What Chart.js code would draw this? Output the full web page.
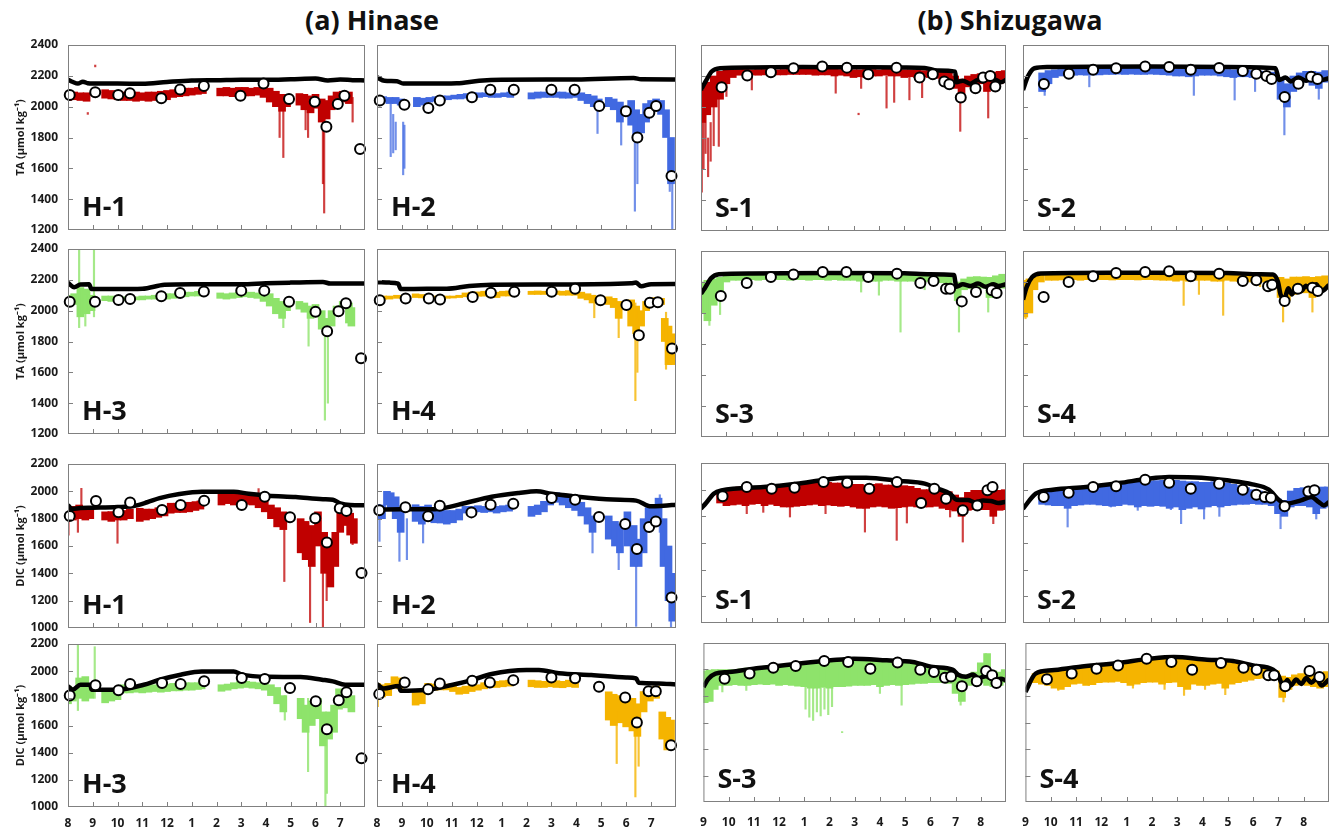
<!DOCTYPE html>
<html>
<head>
<meta charset="utf-8">
<script src="https://cdn.jsdelivr.net/npm/chart.js@4.4.1/dist/chart.umd.min.js"></script>
<style>
  html, body { margin:0; padding:0; background:#fff; }
  body { width:1333px; height:831px; position:relative; overflow:hidden; font-family:'Open Sans', sans-serif; }
  canvas { position:absolute; }
  .title { position:absolute; top:2px; height:36px; line-height:36px; font-weight:700; font-size:27px; color:#111; white-space:nowrap; transform:translateX(-50%); }
</style>
</head>
<body>
<div class="title" style="left:372px">(a) Hinase</div>
<div class="title" style="left:1010px">(b) Shizugawa</div>
<script>
// ---------------- DATA ----------------
const hinaseMonthLabels = ['8','9','10','11','12','1','2','3','4','5','6','7'];
const shizugawaMonthLabels = ['9','10','11','12','1','2','3','4','5','6','7','8'];
const taRange = [1200, 2400];
const dicRange = [1000, 2200];
const yTitleTA = 'TA (µmol kg⁻¹)';
const yTitleDIC = 'DIC (µmol kg⁻¹)';

// Sensor data: [month, low, high]; spikes: [month, low, high]; model: [month, value]; samples: [month, value]

// ---- H-1 TA ----
const H1_TA_band = [[0,2040,2095],[0.25,2045,2095],[0.5,2040,2090],[0.75,2035,2090],
 [1.5,2055,2110],[1.75,2050,2105],[2,2045,2100],[2.25,2040,2095],[2.5,2040,2100],[2.75,2035,2095],[3,2040,2090],[3.25,2035,2095],[3.5,2040,2095],[3.75,2040,2100],[4,2045,2105],[4.25,2060,2110],[4.5,2065,2115],[4.75,2070,2120],[5,2075,2120],[5.25,2080,2125],[5.45,2085,2130],
 [6.15,2070,2120],[6.4,2070,2125],[6.65,2065,2120],[6.9,2065,2125],[7.15,2070,2125],[7.4,2070,2120],[7.65,2075,2125],[7.9,2060,2130],[8.15,2030,2120],[8.4,2000,2100],[8.65,1970,2080],[8.85,2000,2070],
 [9.35,2010,2085],[9.55,1980,2080],[9.8,1960,2070],[10.0,1990,2080],[10.25,1900,2050],[10.45,1920,2040],[10.65,1980,2070],[10.85,2030,2095],[11.1,2030,2100],[11.35,2020,2095]];
const H1_TA_spikes = [[0.8,1950,1962],[1.1,2258,2270],[8.7,1670,2000],[8.55,1800,2000],[9.7,1800,2000],[9.6,1850,2000],[10.35,1310,1950],[10.3,1500,1900],[11.5,1900,2060]];
const H1_TA_model = [[0,2175],[0.2,2160],[0.4,2150],[0.6,2162],[0.8,2152],[1,2150],[2,2150],[3,2148],[4,2160],[5,2170],[6,2172],[7,2175],[8,2175],[9,2178],[10,2182],[10.5,2170],[11,2176],[11.5,2172],[12,2170]];
const H1_TA_samples = [[0.07,2076],[1.1,2093],[2.03,2076],[2.5,2087],[3.77,2054],[4.53,2112],[5.49,2134],[6.97,2071],[7.9,2151],[8.93,2050],[9.97,2032],[10.44,1870],[10.9,2018],[11.17,2071],[11.8,1725]];

// ---- H-2 TA ----
const H2_TA_band = [[0,2030,2070],[0.25,2030,2065],[0.5,2020,2060],[0.75,2020,2060],[0.95,2010,2050],
 [1.6,2000,2060],[1.85,2010,2055],[2.1,2030,2060],[2.35,2035,2065],[2.6,2040,2070],[2.85,2045,2070],[3.1,2050,2075],[3.35,2050,2080],[3.6,2055,2085],[3.85,2060,2090],[4.1,2060,2090],[4.35,2065,2090],[4.6,2060,2095],[4.85,2060,2085],[5.1,2065,2090],[5.35,2060,2095],
 [6.2,2050,2090],[6.45,2055,2095],[6.7,2060,2095],[6.95,2060,2100],[7.2,2060,2095],[7.45,2055,2095],[7.7,2055,2090],[7.95,2060,2095],[8.2,2040,2090],[8.45,2020,2080],[8.7,2000,2070],[8.9,1980,2050],
 [9.3,2000,2060],[9.5,1980,2050],[9.75,1900,2030],[10.2,1880,2040],[10.4,1780,1980],[10.6,1830,1950],[10.8,1900,2020],[11.0,1970,2040],[11.2,2000,2050],[11.4,1950,2040],[11.6,1800,1980],[11.8,1500,1800]];
const H2_TA_spikes = [[0.55,1676,2020],[0.65,1700,1950],[0.75,1720,1900],[1.05,1558,1900],[1.1,1600,1880],[1.95,1965,2040],[8.85,1826,2000],[9.8,1751,1980],[10.35,1322,1900],[10.45,1500,1850],[11.85,1204,1750],[11.75,1450,1750]];
const H2_TA_model = [[0,2190],[0.3,2168],[0.8,2165],[1.05,2150],[2,2150],[3.2,2152],[4.1,2168],[5,2175],[8,2177],[10.3,2186],[10.6,2178],[12,2177]];
const H2_TA_samples = [[0.11,2040],[1.1,2012],[2.06,1991],[2.52,2040],[3.81,2061],[4.55,2109],[5.49,2109],[7.0,2109],[7.93,2109],[8.92,2004],[9.99,1971],[10.45,1800],[10.93,1961],[11.2,2004],[11.82,1551]];

// ---- H-3 TA ----
const H3_TA_band = [[0,2060,2100],[0.25,2040,2110],[0.5,1960,2150],[0.75,1980,2140],[0.95,2000,2100],
 [1.5,2065,2095],[1.75,2060,2095],[2,2060,2090],[2.25,2065,2090],[2.5,2065,2090],[2.75,2070,2090],[3,2070,2095],[3.25,2075,2095],[3.5,2075,2100],[3.75,2080,2105],[4,2075,2110],[4.25,2080,2110],[4.5,2085,2115],[4.75,2090,2120],[5,2095,2120],[5.25,2095,2125],[5.45,2100,2130],
 [6.15,2080,2115],[6.4,2075,2110],[6.65,2080,2115],[6.9,2085,2120],[7.15,2090,2120],[7.4,2085,2120],[7.65,2080,2115],[7.9,2060,2120],[8.15,2030,2110],[8.4,1980,2080],[8.65,1950,2060],[8.85,2000,2050],
 [9.35,2010,2060],[9.55,1990,2050],[9.8,1950,2030],[10.0,1960,2040],[10.25,1880,2000],[10.45,1850,1950],[10.65,1900,2000],[10.85,1980,2030],[11.1,2020,2060],[11.35,1920,2050],[11.45,1900,2020]];
const H3_TA_spikes = [[0.45,1890,2400],[1.05,1960,2400],[0.7,1900,2100],[8.7,1890,2000],[9.72,1770,2000],[10.38,1290,1900],[10.5,1400,1850]];
const H3_TA_model = [[0,2180],[0.25,2152],[0.5,2170],[0.85,2172],[0.95,2140],[2,2140],[3,2142],[3.9,2168],[5,2172],[7,2172],[8,2178],[9,2182],[10.3,2186],[10.6,2176],[12,2176]];
const H3_TA_samples = [[0.07,2058],[1.09,2058],[2.04,2069],[2.51,2076],[3.77,2093],[4.53,2115],[5.49,2125],[7.0,2130],[7.93,2130],[8.93,2058],[10.0,1993],[10.47,1866],[10.93,1996],[11.23,2048],[11.84,1691]];

// ---- H-4 TA ----
const H4_TA_band = [[0,2073,2094],[0.25,2075,2095],[0.5,2075,2095],[0.8,2080,2100],
 [1.55,2085,2109],[1.8,2083,2105],[2.05,2080,2100],[2.3,2080,2095],[2.55,2078,2092],[2.8,2080,2095],[3.05,2082,2095],[3.3,2085,2100],[3.55,2090,2115],[3.8,2094,2120],[4.05,2094,2122],[4.3,2094,2126],[4.55,2090,2126],[4.8,2085,2120],[5.05,2095,2126],[5.3,2095,2128],
 [6.2,2105,2126],[6.45,2105,2128],[6.7,2105,2126],[6.95,2108,2130],[7.2,2105,2128],[7.45,2100,2126],[7.7,2100,2130],[7.95,2100,2128],[8.2,2080,2120],[8.45,2070,2110],[8.65,2050,2100],
 [9.3,2040,2090],[9.5,2020,2080],[9.7,1950,2060],[10.2,1900,2070],[10.4,1850,2030],[10.6,1900,2000],[10.8,2000,2060],[11.0,2040,2080],[11.2,2040,2085],[11.4,2040,2080],[11.55,1800,1950],[11.7,1650,1900],[11.85,1650,1850]];
const H4_TA_spikes = [[8.72,1954,2100],[9.7,1825,2050],[10.37,1416,2050],[10.45,1600,1950],[11.6,1620,1990]];
const H4_TA_model = [[0,2185],[0.5,2182],[0.85,2175],[0.95,2140],[2,2142],[2.8,2142],[3.7,2160],[4.6,2168],[7,2170],[10.2,2178],[10.4,2182],[10.6,2158],[11,2172],[12,2173]];
const H4_TA_samples = [[0.11,2068],[1.15,2079],[2.08,2079],[2.53,2073],[3.84,2088],[4.57,2116],[5.51,2122],[7.01,2122],[7.95,2142],[8.97,2068],[10.01,2036],[10.51,1840],[10.95,2052],[11.27,2055],[11.84,1754]];

// ---- H-1 DIC ----
const H1_DIC_band = [[0,1790,1888],[0.2,1790,1890],[0.45,1800,1900],[0.7,1790,1880],[0.9,1800,1870],
 [1.5,1790,1850],[1.75,1780,1852],[2.0,1790,1850],[2.25,1790,1860],[2.5,1800,1870],[2.9,1780,1876],[3.15,1790,1870],[3.4,1800,1870],[3.65,1810,1880],[3.9,1820,1890],[4.15,1840,1913],[4.4,1845,1913],[4.65,1845,1915],[4.9,1850,1920],[5.15,1860,1925],[5.35,1870,1930],
 [6.2,1900,1986],[6.45,1910,1990],[6.7,1900,1986],[6.95,1900,1980],[7.2,1905,1985],[7.45,1900,1980],[7.7,1880,1975],[7.95,1850,1950],[8.2,1800,1900],[8.45,1740,1880],[8.7,1720,1850],
 [9.4,1550,1800],[9.6,1500,1780],[9.85,1450,1750],[10.1,1600,1850],[10.35,1400,1700],[10.6,1300,1650],[10.8,1450,1700],[11.0,1700,1850],[11.2,1750,1850],[11.4,1680,1840],[11.55,1620,1800]];
const H1_DIC_spikes = [[0.02,1680,1880],[0.54,1800,2022],[0.4,1700,1800],[2.0,1620,1800],[7.7,1950,2020],[8.74,1340,1800],[9.78,1040,1700],[10.3,1000,1500],[10.45,1200,1400],[11.5,1610,1700]];
const H1_DIC_model = [[0,1900],[0.15,1872],[0.5,1878],[1,1880],[2,1885],[2.7,1895],[3.2,1920],[3.7,1950],[4.5,1980],[5.4,1997],[6.7,1997],[7.3,1982],[8.1,1968],[9.2,1958],[10.3,1942],[10.7,1938],[11,1912],[11.4,1900],[12,1898]];
const H1_DIC_samples = [[0.07,1820],[1.13,1930],[2.04,1847],[2.51,1918],[3.8,1864],[4.55,1900],[5.5,1932],[7.02,1900],[7.95,1961],[8.97,1811],[9.99,1803],[10.46,1626],[10.98,1876],[11.25,1857],[11.86,1402]];

// ---- H-2 DIC ----
const H2_DIC_band = [[0,1805,1902],[0.2,1800,1900],[0.4,1900,2000],[0.55,1880,1990],[0.75,1800,1960],[0.95,1700,1880],
 [1.55,1780,1902],[1.8,1760,1890],[2.05,1790,1900],[2.3,1770,1878],[2.55,1768,1870],[2.8,1760,1860],[3.05,1770,1860],[3.3,1790,1870],[3.55,1841,1890],[3.8,1845,1890],[4.05,1850,1895],[4.3,1845,1890],[4.55,1850,1895],[4.8,1841,1890],[5.05,1850,1895],[5.3,1855,1900],
 [6.2,1817,1890],[6.45,1830,1900],[6.7,1850,1927],[6.95,1900,1970],[7.2,1920,1990],[7.45,1900,1970],[7.7,1880,1960],[7.95,1860,1940],[8.2,1820,1920],[8.45,1760,1880],[8.65,1700,1820],
 [9.3,1650,1820],[9.55,1600,1780],[9.75,1550,1760],[10.05,1600,1850],[10.3,1450,1750],[10.5,1450,1650],[10.7,1550,1800],[10.9,1750,1880],[11.1,1760,1900],[11.3,1800,1950],[11.5,1450,1800],[11.7,1200,1600],[11.85,1050,1400]];
const H2_DIC_spikes = [[0.1,1634,1850],[0.9,1488,1800],[1.2,1500,1800],[1.85,1622,1800],[8.65,1549,1800],[9.7,1427,1750],[10.4,1012,1600],[11.35,1700,1975],[11.8,1000,1300]];
const H2_DIC_model = [[0,1866],[1,1868],[2,1868],[2.6,1875],[3.55,1915],[4.6,1960],[5.7,1988],[6.4,2000],[7.0,1982],[7.84,1965],[9.45,1940],[10.4,1932],[11,1890],[11.5,1895],[12,1902]];
const H2_DIC_samples = [[0.09,1861],[1.14,1883],[2.05,1817],[2.52,1895],[3.79,1846],[4.56,1902],[5.47,1910],[7.01,1951],[7.95,1939],[8.91,1812],[9.96,1761],[10.43,1578],[10.92,1739],[11.19,1780],[11.82,1224]];

// ---- H-3 DIC ----
const H3_DIC_band = [[0,1760,1890],[0.2,1780,1880],[0.45,1800,1950],[0.7,1780,1960],[0.9,1800,1900],
 [1.5,1767,1852],[1.75,1780,1852],[2.0,1790,1860],[2.25,1840,1900],[2.5,1840,1900],[2.75,1845,1895],[3.0,1840,1895],[3.25,1845,1900],[3.5,1850,1900],[3.75,1845,1900],[4.0,1850,1905],[4.25,1855,1910],[4.5,1855,1910],[4.75,1860,1915],[5.0,1860,1915],[5.25,1865,1915],[5.4,1870,1920],
 [6.2,1852,1900],[6.45,1860,1905],[6.7,1870,1915],[6.95,1875,1925],[7.2,1880,1925],[7.45,1875,1920],[7.7,1870,1915],[7.95,1860,1910],[8.2,1820,1900],[8.45,1760,1880],[8.7,1700,1820],
 [9.4,1650,1800],[9.6,1550,1750],[9.85,1600,1780],[10.1,1650,1800],[10.3,1450,1700],[10.55,1500,1700],[10.75,1550,1750],[10.95,1720,1870],[11.2,1730,1860],[11.45,1700,1820]];
const H3_DIC_spikes = [[0.4,1710,2200],[1.08,1800,2180],[8.76,1640,1820],[9.7,1260,1800],[10.4,1000,1600],[10.46,1100,1500]];
const H3_DIC_model = [[0,1888],[0.2,1864],[0.5,1900],[0.9,1900],[0.95,1864],[2,1864],[3.06,1900],[3.7,1937],[4.55,1974],[5.4,1998],[6.7,1998],[7.0,1976],[8.1,1958],[9.4,1957],[10.26,1937],[10.7,1925],[11.2,1900],[12,1900]];
const H3_DIC_samples = [[0.07,1820],[1.11,1896],[2.04,1859],[2.51,1905],[3.8,1913],[4.55,1905],[5.5,1925],[7.02,1949],[7.95,1942],[8.97,1876],[10.01,1779],[10.46,1572],[10.94,1786],[11.25,1845],[11.86,1358]];

// ---- H-4 DIC ----
const H4_DIC_band = [[0,1800,1910],[0.2,1810,1900],[0.45,1820,1910],[0.7,1885,1959],[0.9,1870,1950],
 [1.55,1750,1860],[1.8,1760,1860],[2.05,1860,1910],[2.3,1860,1905],[2.55,1862,1910],[2.8,1862,1905],[3.05,1850,1898],[3.3,1830,1880],[3.55,1835,1890],[3.8,1850,1898],[4.05,1860,1900],[4.3,1870,1915],[4.55,1880,1925],[4.8,1880,1925],[5.05,1885,1930],[5.3,1890,1934],
 [6.2,1885,1934],[6.45,1880,1930],[6.7,1880,1925],[6.95,1885,1930],[7.2,1880,1930],[7.45,1878,1925],[7.7,1885,1934],[7.95,1880,1930],
 [9.3,1640,1848],[9.5,1600,1830],[9.75,1620,1820],[10.0,1590,1810],[10.25,1560,1800],[10.45,1520,1760],[10.7,1700,1850],[10.95,1780,1880],[11.2,1800,1890],[11.45,1500,1700],[11.65,1420,1660],[11.8,1450,1640]];
const H4_DIC_spikes = [[0.03,1738,1850],[9.62,1320,1700],[10.37,1074,1600],[10.5,1300,1600]];
const H4_DIC_model = [[0,1905],[0.27,1873],[0.87,1890],[0.95,1856],[1.95,1861],[3.0,1898],[3.8,1934],[4.6,1979],[6.0,2008],[6.5,2008],[7.3,1984],[8.6,1971],[10.0,1954],[10.4,1947],[10.5,1915],[11.3,1910],[12,1902]];
const H4_DIC_samples = [[0.09,1831],[1.11,1917],[2.05,1866],[2.52,1910],[3.82,1930],[4.53,1917],[5.47,1934],[7.0,1954],[7.95,1947],[8.91,1885],[9.96,1807],[10.43,1622],[10.9,1853],[11.19,1853],[11.8,1455]];

// ---- S-1 TA ----
const S1_TA_band = [[0.05,1900,2110],[0.25,1950,2160],[0.5,2000,2200],[0.75,2050,2230],[1.0,2150,2240],[1.25,2190,2240],[1.5,2205,2242],[1.75,2207,2242],[2.0,2207,2240],[2.25,2205,2242],[2.5,2207,2242],[2.75,2207,2245],[3.0,2207,2240],[3.25,2207,2242],[3.5,2210,2245],[3.75,2210,2245],[4.0,2210,2245],[4.25,2210,2248],[4.5,2205,2245],[4.75,2207,2245],[5.0,2207,2245],[5.25,2200,2245],[5.5,2205,2242],[5.75,2200,2240],[6.0,2190,2240],[6.25,2195,2240],[6.5,2190,2242],[6.75,2200,2242],[7.0,2200,2240],[7.25,2205,2245],[7.5,2200,2245],[7.75,2200,2242],[8.0,2190,2240],[8.25,2195,2240],[8.5,2190,2238],[8.75,2195,2235],[9.0,2190,2235],[9.25,2185,2230],[9.5,2170,2225],[9.75,2160,2220],[10.0,2120,2200],[10.25,2050,2180],[10.5,2130,2200],[10.75,2140,2210],[11.0,2150,2215],[11.25,2100,2220],[11.5,2140,2225],[11.75,2150,2230],[11.95,2160,2235]];
const S1_TA_spikes = [[0.03,1450,2100],[0.1,1600,1900],[0.18,1700,2000],[0.28,1550,1800],[0.38,1650,1900],[0.5,1750,2000],[0.7,1746,2100],[1.0,2068,2200],[2.0,2110,2200],[5.3,2089,2200],[6.2,1950,1960],[6.3,2120,2200],[7.3,1993,2200],[7.6,2030,2200],[8.2,2046,2200],[8.7,2060,2200],[10.2,1843,2100],[11.3,1929,2150]];
const S1_TA_model = [[0,2111],[0.2,2170],[0.42,2229],[0.75,2250],[2,2255],[4,2258],[6,2256],[8,2255],[8.8,2252],[9.3,2235],[10,2228],[10.05,2160],[10.3,2170],[10.6,2150],[10.9,2175],[11.1,2165],[11.3,2185],[11.6,2175],[11.8,2160],[12,2175]];
const S1_TA_samples = [[0.81,2128],[1.82,2203],[2.75,2224],[3.64,2250],[4.77,2261],[5.74,2254],[6.58,2211],[7.69,2254],[8.6,2190],[9.12,2211],[9.57,2164],[9.77,2147],[10.22,2061],[10.8,2121],[11.1,2190],[11.38,2200],[11.58,2132]];

// ---- S-2 TA ----
const S2_TA_band = [[0.75,2100,2220],[1.0,2150,2235],[1.25,2190,2240],[1.5,2200,2242],[1.75,2205,2245],[2.0,2205,2245],[2.25,2207,2245],[2.5,2205,2245],[2.75,2207,2248],[3.0,2207,2245],[3.25,2210,2248],[3.5,2210,2250],[3.75,2212,2250],[4.0,2210,2250],[4.25,2212,2252],[4.5,2210,2250],[4.75,2210,2250],[5.0,2212,2252],[5.25,2210,2250],[5.5,2208,2250],[5.75,2205,2248],[6.0,2200,2245],[6.25,2200,2245],[6.5,2195,2245],[6.75,2200,2245],[7.0,2205,2248],[7.25,2205,2248],[7.5,2205,2248],[7.75,2200,2245],[8.0,2195,2242],[8.25,2190,2240],[8.5,2195,2240],[8.75,2195,2238],[9.0,2190,2235],[9.25,2190,2232],[9.5,2180,2228],[9.75,2170,2225],[10.1,2050,2180],[10.35,2000,2150],[10.6,2100,2200],[10.85,2150,2220],[11.1,2160,2230],[11.35,2140,2230],[11.6,2120,2225],[11.85,2160,2235]];
const S2_TA_spikes = [[0.85,2075,2200],[2.6,2130,2200],[6.7,2075,2200],[8.3,2045,2200],[9.1,2100,2200],[10.25,1820,2100],[11.6,2050,2150]];
const S2_TA_model = [[0,2110],[0.2,2200],[0.45,2250],[1,2258],[5,2262],[8,2258],[9.9,2250],[10.05,2175],[10.3,2190],[10.5,2165],[10.8,2190],[11.1,2170],[11.4,2190],[11.7,2175],[12,2185]];
const S2_TA_samples = [[0.82,2148],[1.8,2215],[2.75,2240],[3.65,2250],[4.79,2262],[5.73,2258],[6.58,2240],[7.69,2252],[8.62,2232],[9.15,2215],[9.55,2200],[9.75,2180],[10.26,2065],[10.8,2150],[11.3,2195],[11.55,2180]];

// ---- S-3 TA ----
const S3_TA_band = [[0.05,2000,2200],[0.25,1950,2211],[0.5,2050,2220],[0.75,2100,2230],[1.0,2200,2245],[1.25,2211,2250],[1.5,2211,2252],[1.75,2211,2250],[2.0,2215,2252],[2.25,2211,2254],[2.5,2215,2254],[2.75,2211,2254],[3.0,2215,2254],[3.25,2215,2256],[3.5,2211,2254],[3.75,2215,2256],[4.0,2215,2256],[4.25,2211,2254],[4.5,2215,2256],[4.75,2215,2256],[5.0,2211,2254],[5.25,2215,2256],[5.5,2211,2254],[5.75,2211,2254],[6.0,2211,2252],[6.25,2205,2252],[6.5,2211,2252],[6.75,2205,2254],[7.0,2205,2252],[7.25,2211,2254],[7.5,2211,2254],[7.75,2205,2252],[8.0,2205,2250],[8.25,2205,2250],[8.5,2205,2250],[8.75,2200,2248],[9.0,2205,2248],[9.25,2200,2245],[9.5,2195,2245],[9.75,2190,2240],[10.1,2080,2200],[10.35,2150,2220],[10.6,2157,2232],[10.85,2160,2235],[11.1,2160,2232],[11.35,2100,2230],[11.6,2157,2240],[11.85,2160,2250]];
const S3_TA_spikes = [[0.16,1974,2150],[0.33,1920,2150],[0.75,1990,2150],[6.3,2135,2211],[7.0,2115,2211],[7.85,1877,2211],[8.8,2150,2211],[10.15,1877,2150],[11.3,2006,2150]];
const S3_TA_model = [[0,2125],[0.15,2160],[0.4,2225],[0.7,2250],[2,2255],[5,2258],[8,2256],[9,2250],[9.95,2245],[10.05,2170],[10.3,2185],[10.6,2175],[10.9,2190],[11.2,2170],[11.5,2185],[11.7,2175],[12,2185]];
const S3_TA_samples = [[0.78,2110],[1.8,2194],[2.75,2232],[3.64,2249],[4.79,2264],[5.72,2264],[6.58,2232],[7.71,2254],[8.63,2194],[9.15,2206],[9.64,2157],[9.8,2157],[10.26,2075],[10.82,2135],[11.44,2146],[11.63,2129]];

// ---- S-4 TA ----
const S4_TA_band = [[0.05,1974,2211],[0.25,2000,2220],[0.45,2150,2235],[0.7,2200,2245],[1.0,2211,2250],[1.25,2211,2252],[1.5,2213,2252],[1.75,2211,2254],[2.0,2215,2254],[2.25,2211,2254],[2.5,2215,2256],[2.75,2213,2256],[3.0,2215,2256],[3.25,2215,2256],[3.5,2213,2256],[3.75,2215,2256],[4.0,2215,2258],[4.25,2215,2256],[4.5,2213,2256],[4.75,2215,2258],[5.0,2215,2256],[5.25,2213,2256],[5.5,2211,2256],[5.75,2211,2254],[6.0,2205,2254],[6.25,2211,2254],[6.5,2205,2254],[6.75,2211,2254],[7.0,2211,2254],[7.25,2211,2254],[7.5,2205,2254],[7.75,2205,2252],[8.0,2211,2252],[8.25,2205,2250],[8.5,2205,2250],[8.75,2205,2250],[9.0,2200,2248],[9.25,2200,2248],[9.5,2200,2245],[9.75,2200,2245],[10.1,2100,2230],[10.35,2082,2220],[10.6,2120,2232],[10.85,2140,2232],[11.1,2130,2235],[11.35,2100,2230],[11.6,2150,2235],[11.85,2160,2240]];
const S4_TA_spikes = [[0.1,1963,2100],[6.3,2049,2211],[6.9,2120,2211],[7.85,1985,2211],[9.3,2170,2211],[10.2,1942,2100],[11.35,2006,2130]];
const S4_TA_model = [[0,2086],[0.15,2170],[0.36,2232],[0.7,2255],[2,2258],[5,2260],[8,2258],[9.3,2250],[9.8,2248],[10,2200],[10.1,2120],[10.25,2090],[10.4,2160],[10.55,2120],[10.7,2170],[10.9,2140],[11.1,2175],[11.3,2150],[11.5,2185],[11.7,2140],[12,2180]];
const S4_TA_samples = [[0.81,2103],[1.79,2200],[2.75,2237],[3.65,2258],[4.79,2264],[5.73,2269],[6.58,2237],[7.69,2254],[8.62,2206],[9.15,2211],[9.61,2172],[9.77,2183],[10.26,2077],[10.78,2157],[11.35,2163],[11.56,2142]];

// ---- S-1 DIC ----
const S1_DIC_band = [[0.75,1900,1990],[1.0,1880,2010],[1.25,1885,2015],[1.5,1890,2020],[1.75,1880,2020],[2.0,1890,2020],[2.25,1895,2025],[2.5,1880,2020],[2.75,1890,2025],[3.0,1880,2025],[3.25,1870,2030],[3.5,1870,2030],[3.75,1875,2040],[4.0,1880,2045],[4.25,1885,2050],[4.5,1890,2057],[4.75,1880,2055],[5.0,1885,2055],[5.25,1880,2050],[5.5,1875,2050],[5.75,1880,2045],[6.0,1870,2040],[6.25,1860,2040],[6.5,1860,2035],[6.75,1870,2040],[7.0,1875,2045],[7.25,1870,2035],[7.5,1860,2035],[7.75,1865,2030],[8.0,1870,2030],[8.25,1875,2025],[8.5,1870,2010],[8.75,1870,2000],[9.0,1870,2000],[9.25,1875,1995],[9.5,1860,1990],[9.75,1850,1985],[10.0,1840,1960],[10.25,1800,1940],[10.5,1845,1980],[10.75,1850,1995],[11.0,1850,1995],[11.25,1850,2000],[11.5,1800,1990],[11.75,1845,1995],[11.95,1850,2000]];
const S1_DIC_spikes = [[1.8,1820,1900],[2.45,1830,1900],[3.5,1795,1880],[4.9,1820,1890],[6.45,1682,1870],[7.7,1620,1870],[8.1,1750,1870],[9.8,1795,1870],[10.3,1607,1850],[11.5,1745,1850]];
const S1_DIC_model = [[0,1857],[0.2,1900],[0.5,1970],[0.8,1995],[2.45,2020],[3.76,2045],[4.9,2075],[5.7,2090],[6.5,2090],[7.84,2065],[8.8,2045],[9.3,2008],[9.8,1970],[10.05,1925],[10.5,1922],[10.8,1905],[11.1,1918],[11.4,1915],[11.7,1900],[12,1910]];
const S1_DIC_samples = [[0.85,1950],[1.8,2020],[2.78,2007],[3.68,2015],[4.82,2057],[5.75,2052],[6.62,2007],[7.71,2057],[8.66,1900],[9.18,2007],[9.64,1932],[10.3,1845],[10.87,1882],[11.27,1995],[11.47,2020]];

// ---- S-2 DIC ----
const S2_DIC_band = [[0.75,1890,1970],[1.0,1885,1990],[1.25,1880,1995],[1.5,1880,2000],[1.75,1860,2005],[2.0,1880,2007],[2.25,1885,2010],[2.5,1890,2015],[2.75,1890,2020],[3.0,1885,2025],[3.25,1880,2030],[3.5,1875,2035],[3.75,1880,2040],[4.0,1890,2045],[4.25,1885,2050],[4.5,1870,2055],[4.75,1880,2060],[5.0,1875,2065],[5.25,1880,2068],[5.5,1875,2070],[5.75,1860,2070],[6.0,1870,2070],[6.25,1850,2065],[6.5,1860,2060],[6.75,1870,2060],[7.0,1855,2055],[7.25,1870,2055],[7.5,1880,2060],[7.75,1870,2060],[8.0,1880,2050],[8.25,1885,2040],[8.5,1890,2030],[8.75,1890,2015],[9.0,1895,2000],[9.25,1890,1990],[9.5,1890,1980],[9.75,1880,1960],[10.0,1820,1930],[10.25,1800,1920],[10.5,1870,1990],[10.75,1880,2010],[11.0,1880,2015],[11.25,1870,2020],[11.5,1820,2015],[11.75,1860,2020],[11.95,1870,2020]];
const S2_DIC_spikes = [[1.75,1720,1900],[3.45,1870,1900],[4.5,1845,1880],[5.8,1850,1880],[6.2,1745,1870],[7.1,1780,1870],[7.7,1800,1880],[10.1,1707,1880],[11.5,1780,1870]];
const S2_DIC_model = [[0,1857],[0.5,1970],[1.17,2000],[2.47,2020],[3.78,2050],[4.9,2082],[5.73,2095],[7.0,2090],[8.0,2070],[9.0,2040],[9.64,2000],[10.05,1920],[10.3,1895],[10.9,1920],[11.3,1945],[11.6,1907],[11.8,1882],[12,1907]];
const S2_DIC_samples = [[0.81,1945],[1.79,1977],[2.75,2020],[3.65,2025],[4.79,2075],[5.73,2052],[6.58,2007],[7.69,2045],[8.62,2000],[9.15,1962],[9.48,1945],[9.72,1940],[10.26,1875],[11.19,1987],[11.43,1995]];

// ---- S-3 DIC ----
const S3_DIC_band = [[0.05,1750,1990],[0.25,1760,1995],[0.45,1850,2000],[0.7,1880,2000],[1.0,1880,2000],[1.25,1885,2000],[1.5,1880,2005],[1.75,1880,2010],[2.0,1885,2015],[2.25,1890,2020],[2.5,1885,2025],[2.75,1890,2030],[3.0,1880,2030],[3.25,1885,2035],[3.5,1880,2040],[3.75,1875,2045],[4.0,1870,2050],[4.25,1860,2045],[4.5,1860,2050],[4.75,1865,2060],[5.0,1860,2060],[5.25,1870,2065],[5.5,1870,2070],[5.75,1875,2070],[6.0,1880,2075],[6.25,1880,2075],[6.5,1880,2070],[6.75,1885,2070],[7.0,1870,2060],[7.25,1880,2065],[7.5,1885,2060],[7.75,1880,2055],[8.0,1885,2050],[8.25,1890,2045],[8.5,1895,2040],[8.75,1895,2030],[9.0,1900,2020],[9.25,1900,2010],[9.5,1900,2000],[9.75,1895,1995],[10.0,1820,1960],[10.25,1760,1940],[10.5,1880,1960],[10.75,1890,1980],[11.0,1900,2050],[11.25,1880,2120],[11.5,1870,1990],[11.75,1880,1980],[11.95,1900,2000]];
const S3_DIC_spikes = [[0.75,1830,1900],[1.7,1843,1900],[4.05,1700,1880],[4.2,1640,1860],[4.35,1616,1860],[4.5,1680,1860],[4.65,1650,1860],[4.8,1700,1860],[4.95,1660,1860],[5.1,1720,1860],[5.5,1523,1531],[7.0,1820,1890],[7.86,1730,1890],[10.2,1730,1850],[11.2,1960,2120]];
const S3_DIC_model = [[0,1868],[0.2,1930],[0.48,1969],[1,1981],[2.2,2011],[3.75,2044],[5.05,2069],[5.97,2082],[7.27,2069],[8.3,2057],[9.1,2019],[9.88,1999],[10.1,1960],[10.4,1945],[10.7,1962],[10.9,1935],[11.2,1950],[11.5,1925],[11.8,1930],[12,1918]];
const S3_DIC_samples = [[0.84,1931],[1.83,1969],[2.77,2014],[3.66,2026],[4.79,2064],[5.74,2057],[6.62,2006],[7.7,2052],[8.6,1999],[9.14,1981],[9.58,1938],[9.82,1948],[10.25,1873],[10.84,1911],[11.21,1989],[11.45,1956],[11.62,1898]];

// ---- S-4 DIC ----
const S4_DIC_band = [[0.4,1900,1970],[0.65,1890,1985],[0.9,1880,1995],[1.15,1860,2000],[1.4,1850,2005],[1.65,1870,2010],[1.9,1890,2015],[2.15,1895,2019],[2.4,1880,2022],[2.65,1885,2027],[2.9,1900,2032],[3.15,1905,2037],[3.4,1905,2040],[3.65,1910,2045],[3.9,1900,2050],[4.15,1880,2060],[4.4,1890,2065],[4.65,1900,2070],[4.9,1905,2075],[5.15,1905,2080],[5.4,1890,2082],[5.65,1900,2085],[5.9,1905,2088],[6.15,1870,2085],[6.4,1850,2080],[6.65,1890,2075],[6.9,1880,2070],[7.15,1880,2068],[7.4,1890,2065],[7.65,1895,2062],[7.9,1860,2060],[8.15,1890,2055],[8.4,1900,2045],[8.65,1910,2035],[8.9,1920,2030],[9.15,1930,2020],[9.4,1935,2010],[9.65,1940,2000],[9.9,1930,1990],[10.15,1790,1950],[10.4,1850,1940],[10.65,1880,1960],[10.9,1890,1970],[11.15,1880,1980],[11.4,1870,1975],[11.65,1860,1970],[11.9,1870,1985]];
const S4_DIC_spikes = [[1.3,1843,1900],[2.5,1880,1900],[4.25,1860,1900],[5.5,1850,1900],[6.27,1805,1880],[7.1,1850,1890],[7.9,1810,1880],[10.2,1755,1900]];
const S4_DIC_model = [[0,1830],[0.4,1969],[1.04,1994],[2.1,2019],[3.65,2049],[4.96,2082],[5.87,2094],[7.18,2074],[8.2,2064],[9.0,2031],[9.79,1999],[10.0,1956],[10.1,1905],[10.2,1870],[10.35,1920],[10.5,1880],[10.7,1925],[10.9,1890],[11.1,1935],[11.3,1900],[11.5,1930],[11.7,1880],[12,1925]];
const S4_DIC_samples = [[0.85,1926],[1.83,1969],[2.81,2006],[3.66,2031],[4.79,2082],[5.77,2057],[6.59,1999],[7.73,2049],[8.62,2014],[9.14,1999],[9.6,1956],[9.83,1956],[10.27,1873],[11.23,1989],[11.62,1943]];

// ---------------- LAYOUT / STYLE ----------------
const COLS = [{L:68,R:365},{L:377,R:676},{L:701,R:1006},{L:1023,R:1329}];
const ROWS_H = [{T:45,B:230},{T:249,B:434},{T:464,B:628},{T:644,B:807}];
const ROWS_S = [{T:45,B:231},{T:251,B:437},{T:463,B:623},{T:643,B:802}];
const STATION_COLORS = {1:'#c00000', 2:'#4169e1', 3:'#8ee36b', 4:'#f5b400'};
const SPIKE_COLORS = {1:'rgba(192,0,0,0.75)', 2:'rgba(65,105,225,0.75)', 3:'rgba(142,227,107,0.8)', 4:'rgba(245,180,0,0.8)'};
const FRAME = '#808080';

const panels = [
  {lab:'H-1', site:'H', st:1, row:0, col:0, kind:'TA',  d:[H1_TA_band,H1_TA_spikes,H1_TA_model,H1_TA_samples]},
  {lab:'H-2', site:'H', st:2, row:0, col:1, kind:'TA',  d:[H2_TA_band,H2_TA_spikes,H2_TA_model,H2_TA_samples]},
  {lab:'S-1', site:'S', st:1, row:0, col:2, kind:'TA',  d:[S1_TA_band,S1_TA_spikes,S1_TA_model,S1_TA_samples]},
  {lab:'S-2', site:'S', st:2, row:0, col:3, kind:'TA',  d:[S2_TA_band,S2_TA_spikes,S2_TA_model,S2_TA_samples]},
  {lab:'H-3', site:'H', st:3, row:1, col:0, kind:'TA',  d:[H3_TA_band,H3_TA_spikes,H3_TA_model,H3_TA_samples]},
  {lab:'H-4', site:'H', st:4, row:1, col:1, kind:'TA',  d:[H4_TA_band,H4_TA_spikes,H4_TA_model,H4_TA_samples]},
  {lab:'S-3', site:'S', st:3, row:1, col:2, kind:'TA',  d:[S3_TA_band,S3_TA_spikes,S3_TA_model,S3_TA_samples]},
  {lab:'S-4', site:'S', st:4, row:1, col:3, kind:'TA',  d:[S4_TA_band,S4_TA_spikes,S4_TA_model,S4_TA_samples]},
  {lab:'H-1', site:'H', st:1, row:2, col:0, kind:'DIC', d:[H1_DIC_band,H1_DIC_spikes,H1_DIC_model,H1_DIC_samples]},
  {lab:'H-2', site:'H', st:2, row:2, col:1, kind:'DIC', d:[H2_DIC_band,H2_DIC_spikes,H2_DIC_model,H2_DIC_samples]},
  {lab:'S-1', site:'S', st:1, row:2, col:2, kind:'DIC', d:[S1_DIC_band,S1_DIC_spikes,S1_DIC_model,S1_DIC_samples]},
  {lab:'S-2', site:'S', st:2, row:2, col:3, kind:'DIC', d:[S2_DIC_band,S2_DIC_spikes,S2_DIC_model,S2_DIC_samples]},
  {lab:'H-3', site:'H', st:3, row:3, col:0, kind:'DIC', d:[H3_DIC_band,H3_DIC_spikes,H3_DIC_model,H3_DIC_samples]},
  {lab:'H-4', site:'H', st:4, row:3, col:1, kind:'DIC', d:[H4_DIC_band,H4_DIC_spikes,H4_DIC_model,H4_DIC_samples]},
  {lab:'S-3', site:'S', st:3, row:3, col:2, kind:'DIC', d:[S3_DIC_band,S3_DIC_spikes,S3_DIC_model,S3_DIC_samples]},
  {lab:'S-4', site:'S', st:4, row:3, col:3, kind:'DIC', d:[S4_DIC_band,S4_DIC_spikes,S4_DIC_model,S4_DIC_samples]},
];

Chart.defaults.font.family = "'Open Sans', sans-serif";
Chart.defaults.color = '#1a1a1a';

const framePlugin = {
  id: 'frame',
  afterDatasetsDraw(chart, args, opts) {
    const {ctx, chartArea: a, scales} = chart;
    ctx.save();
    ctx.strokeStyle = FRAME;
    ctx.lineWidth = 1;
    ctx.beginPath();
    scales.y.ticks.forEach(t => {
      if (t.value === scales.y.min || t.value === scales.y.max) return;
      const py = Math.round(scales.y.getPixelForValue(t.value)) + 0.5;
      ctx.moveTo(a.left, py); ctx.lineTo(a.left + 5, py);
    });
    scales.x.ticks.forEach(t => {
      if (t.value === scales.x.min || t.value === scales.x.max) return;
      const px = Math.round(scales.x.getPixelForValue(t.value)) + 0.5;
      ctx.moveTo(px, a.bottom); ctx.lineTo(px, a.bottom - 5);
    });
    ctx.stroke();
    ctx.strokeRect(a.left + 0.5, a.top + 0.5, a.right - a.left - 1, a.bottom - a.top - 1);
    ctx.fillStyle = '#111';
    ctx.font = "bold 27px 'Open Sans', sans-serif";
    ctx.textBaseline = 'alphabetic';
    ctx.fillText(opts.label, a.left + 14, a.bottom - 14);
    ctx.restore();
  }
};

const PAD_V = 22;
const PAD_H = 14;
panels.forEach(p => {
  const col = COLS[p.col];
  const rowSet = p.site === 'H' ? ROWS_H : ROWS_S;
  const row = rowSet[p.row];
  const isLeft = p.col === 0;
  const isBottom = p.row === 3;
  const xAxisH = isBottom ? 28 : 0;
  const canvasLeft = isLeft ? 0 : col.L - PAD_H;
  const leftSpace = isLeft ? col.L : 0;
  const w = (col.R - canvasLeft) + PAD_H;
  const h = (row.B - row.T) + PAD_V * 2 + xAxisH;
  const cv = document.createElement('canvas');
  cv.width = w; cv.height = h;
  cv.style.left = canvasLeft + 'px';
  cv.style.top = (row.T - PAD_V) + 'px';
  cv.style.width = w + 'px'; cv.style.height = h + 'px';
  document.body.appendChild(cv);

  const [band, spikes, model, samples] = p.d;
  const color = STATION_COLORS[p.st];
  const yr = p.kind === 'TA' ? taRange : dicRange;
  const monthLabels = p.site === 'H' ? hinaseMonthLabels : shizugawaMonthLabels;

  new Chart(cv, {
    type: 'bar',
    data: {
      datasets: [
        {type:'scatter', data: samples.map(([x,y]) => ({x,y})), order:0,
         pointRadius:5, pointHoverRadius:5, pointBorderWidth:2, borderColor:'#000', backgroundColor:'#fff', showLine:false, clip:8},
        {type:'line', data: model.map(([x,y]) => ({x,y})), order:1,
         borderColor:'#000', borderWidth:4.5, pointRadius:0, cubicInterpolationMode:'monotone', fill:false},
        {type:'bar', data: spikes.map(([x,lo,hi]) => ({x, y:[lo,hi]})), order:2,
         backgroundColor: SPIKE_COLORS[p.st], barThickness:1.5, grouped:false, borderWidth:0, borderSkipped:false},
        {type:'bar', data: band.map(([x,lo,hi]) => ({x, y:[lo,hi]})), order:3,
         backgroundColor: color, barThickness:7, grouped:false, borderWidth:0, borderSkipped:false},
      ]
    },
    options: {
      responsive:false, animation:false, devicePixelRatio:1, events:[],
      layout: { padding: { left: isLeft ? 0 : PAD_H, right: PAD_H, top: PAD_V, bottom: PAD_V } },
      plugins: { legend:{display:false}, tooltip:{enabled:false}, frame:{label:p.lab} },
      scales: {
        x: {
          type:'linear', min:0, max:12, offset:false,
          grid:{display:false, drawTicks:false, offset:false}, border:{display:false},
          ticks:{ display:isBottom, stepSize:1, autoSkip:false, maxRotation:0, minRotation:0,
                  padding: p.site === 'H' ? 9 : 13,
                  font:{size:12, weight:'bold'}, color:'#1a1a1a',
                  callback:(v) => (monthLabels[v] !== undefined ? monthLabels[v] : '') },
          afterFit:(s) => { s.height = xAxisH; }
        },
        y: {
          type:'linear', min:yr[0], max:yr[1],
          grid:{display:false, drawTicks:false}, border:{display:false},
          ticks:{ display:isLeft, stepSize:200, padding:10, font:{size:12, weight:'bold'}, color:'#1a1a1a',
                  callback:(v) => String(v) },
          title:{ display:isLeft, text: p.kind === 'TA' ? yTitleTA : yTitleDIC,
                  font:{size:11, weight:'bold'}, color:'#1a1a1a', padding:{top:14, bottom:0} },
          afterFit:(s) => { s.width = leftSpace; }
        }
      }
    },
    plugins:[framePlugin]
  });
});
</script>
</body>
</html>
